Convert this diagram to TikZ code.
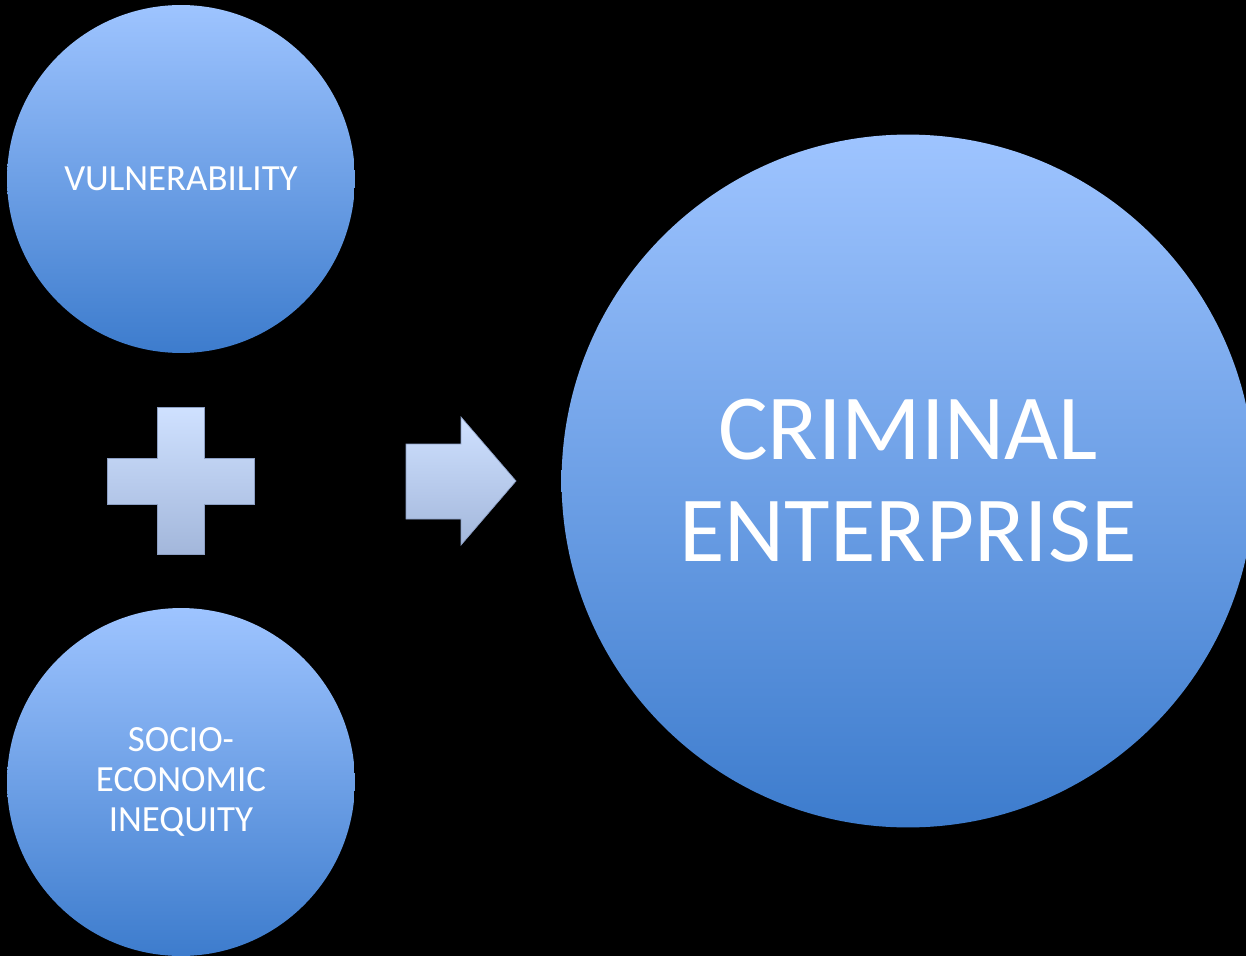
\documentclass[tikz,border=0pt]{standalone}
\usepackage{fontspec}
\setmainfont{Carlito}
\usetikzlibrary{positioning}
\definecolor{ballTop}{HTML}{9EC4FF}
\definecolor{ballBottom}{HTML}{3D7CCD}
\definecolor{signTop}{HTML}{CFE1FF}
\definecolor{signBottom}{HTML}{A3B7DB}
\definecolor{signEdge}{HTML}{8C9FC4}
\tikzstyle{ball}   = [circle, inner sep=0pt, text=white, align=center, shading=axis, top color=ballTop, bottom color=ballBottom]
\tikzstyle{small}  = [ball, minimum size=6.96cm, font=\fontsize{21}{22.8}\selectfont]
\tikzstyle{big}    = [ball, minimum size=13.86cm, font=\fontsize{53}{58}\selectfont]
\tikzstyle{sign}   = [draw=signEdge, line width=0.4pt, top color=signTop, bottom color=signBottom]

\begin{document}
\begin{tikzpicture}[x=0.02cm, y=-0.02cm]

% background
\fill [black] (0,0) rectangle (1246,956);
\useasboundingbox (0,0) rectangle (1246,956);

% nodes
\node [small] (vuln)   at (181,179) {VULNERABILITY};
\node [small] (socio)  at (181,782) {SOCIO-\\ECONOMIC\\INEQUITY};
\node [big]   (crime)  at (908,481) {CRIMINAL\\ENTERPRISE};

% plus
\path [sign] (157,407) -- (204,407) -- (204,458) -- (254,458) -- (254,504) -- (204,504)
             -- (204,554) -- (157,554) -- (157,504) -- (107,504) -- (107,458) -- (157,458) -- cycle;

% arrow
\path [sign] (406,444) -- (461,444) -- (461,417) -- (516,481) -- (461,545) -- (461,519) -- (406,519) -- cycle;

\end{tikzpicture}
\end{document}
